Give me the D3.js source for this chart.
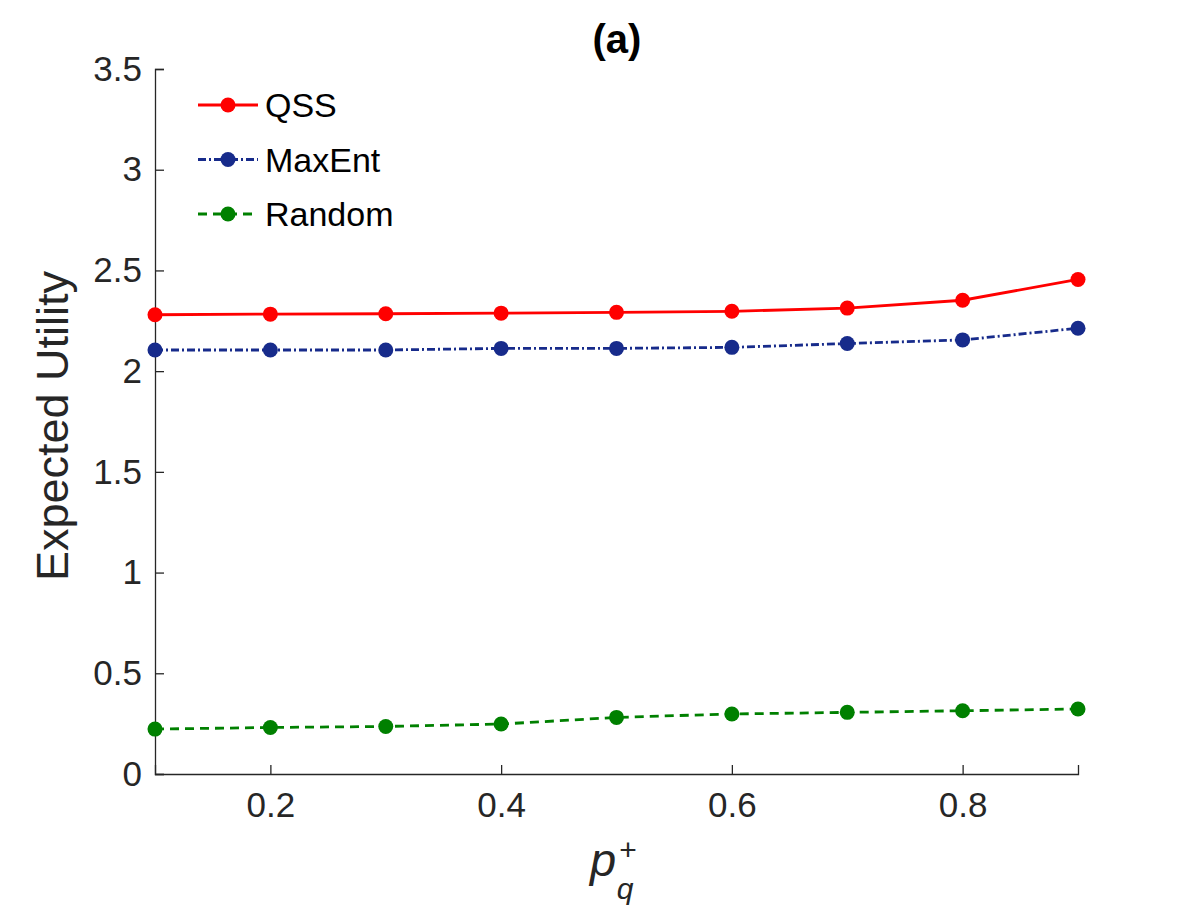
<!DOCTYPE html>
<html>
<head>
<meta charset="utf-8">
<script src="https://cdn.jsdelivr.net/npm/d3@7/dist/d3.min.js"></script>
<style>
  body { margin: 0; background: #fff; }
  text { font-family: "Liberation Sans", Arial, Helvetica, sans-serif; }
</style>
</head>
<body>
<div id="chart"></div>
<script>
// Data
const pValues = [0.1, 0.2, 0.3, 0.4, 0.5, 0.6, 0.7, 0.8, 0.9];
const qss = [2.28, 2.283, 2.285, 2.288, 2.292, 2.297, 2.313, 2.352, 2.455];
const maxEnt = [2.105, 2.105, 2.105, 2.113, 2.113, 2.118, 2.137, 2.155, 2.213];
const randomSel = [0.223, 0.231, 0.236, 0.248, 0.281, 0.298, 0.306, 0.314, 0.323];
const xTicks = [0.2, 0.4, 0.6, 0.8];
const yTicks = [0, 0.5, 1, 1.5, 2, 2.5, 3, 3.5];

const series = [
    { name: "QSS", values: qss, color: "#ff0000", dash: null },
    { name: "MaxEnt", values: maxEnt, color: "#172b8b", dash: "8,3,2,3" },
    { name: "Random", values: randomSel, color: "#008000", dash: "9,6" }
];

const width = 1192, height = 908;
const margin = { top: 69, right: 114, bottom: 134, left: 155 };
const w = width - margin.left - margin.right;
const h = height - margin.top - margin.bottom;

const svg = d3.select("#chart").append("svg")
    .attr("width", width)
    .attr("height", height);

const g = svg.append("g")
    .attr("transform", `translate(${margin.left},${margin.top})`);

const x = d3.scaleLinear().domain([0.1, 0.9]).range([0, w]);
const y = d3.scaleLinear().domain([0, 3.5]).range([h, 0]);

const textColor = "#262626";

// axes (ticks point inward, no box)
const xAxis = g.append("g")
    .attr("transform", `translate(0,${h})`)
    .call(d3.axisBottom(x).tickValues(xTicks).tickSize(-9).tickPadding(18)
        .tickFormat(d3.format(".1f")));
const yAxis = g.append("g")
    .call(d3.axisLeft(y).tickValues(yTicks).tickSize(-9).tickPadding(13)
        .tickFormat(d => d3.format("~g")(d)));

[xAxis, yAxis].forEach(a => {
    a.select(".domain").attr("stroke", textColor).attr("stroke-width", 1.3);
    a.selectAll(".tick line").attr("stroke", textColor).attr("stroke-width", 1.3);
    a.selectAll(".tick text")
        .attr("fill", textColor)
        .style("font-size", "35px")
        .style("font-family", "'Liberation Sans', Arial, sans-serif");
});
xAxis.selectAll(".tick text").attr("dy", "0.71em");

// lines and markers
const line = d3.line()
    .x((d, i) => x(pValues[i]))
    .y(d => y(d));

series.forEach(s => {
    g.append("path")
        .datum(s.values)
        .attr("fill", "none")
        .attr("stroke", s.color)
        .attr("stroke-width", 2.8)
        .attr("stroke-dasharray", s.dash)
        .attr("d", line);
    g.selectAll(null)
        .data(s.values)
        .enter()
        .append("circle")
        .attr("cx", (d, i) => x(pValues[i]))
        .attr("cy", d => y(d))
        .attr("r", 7.5)
        .attr("fill", s.color);
});

// legend
const legend = svg.append("g");
series.forEach((s, i) => {
    const ly = 105 + i * 54.5;
    legend.append("line")
        .attr("x1", 198).attr("x2", 258)
        .attr("y1", ly).attr("y2", ly)
        .attr("stroke", s.color)
        .attr("stroke-width", 2.8)
        .attr("stroke-dasharray", s.dash);
    legend.append("circle")
        .attr("cx", 228).attr("cy", ly).attr("r", 7.5)
        .attr("fill", s.color);
    legend.append("text")
        .attr("x", 265).attr("y", ly)
        .attr("dy", "0.36em")
        .style("font-size", "34px")
        .attr("fill", "#000")
        .text(s.name);
});

// title
svg.append("text")
    .attr("x", 617).attr("y", 53)
    .attr("text-anchor", "middle")
    .style("font-size", "40px")
    .style("font-weight", "bold")
    .attr("fill", "#000")
    .text("(a)");

// y label
svg.append("text")
    .attr("transform", "translate(68,426) rotate(-90)")
    .attr("text-anchor", "middle")
    .style("font-size", "45px")
    .attr("fill", textColor)
    .text("Expected Utility");

// x label: p_q^+
const xl = svg.append("text")
    .attr("x", 590).attr("y", 876)
    .attr("fill", textColor)
    .style("font-size", "47px")
    .style("font-style", "italic");
xl.append("tspan").text("p");
xl.append("tspan").attr("dx", "3").attr("dy", "-16").style("font-size", "30px").style("font-style", "normal").text("+");
xl.append("tspan").attr("dx", "-20").attr("dy", "39").style("font-size", "30px").text("q");
</script>
</body>
</html>
